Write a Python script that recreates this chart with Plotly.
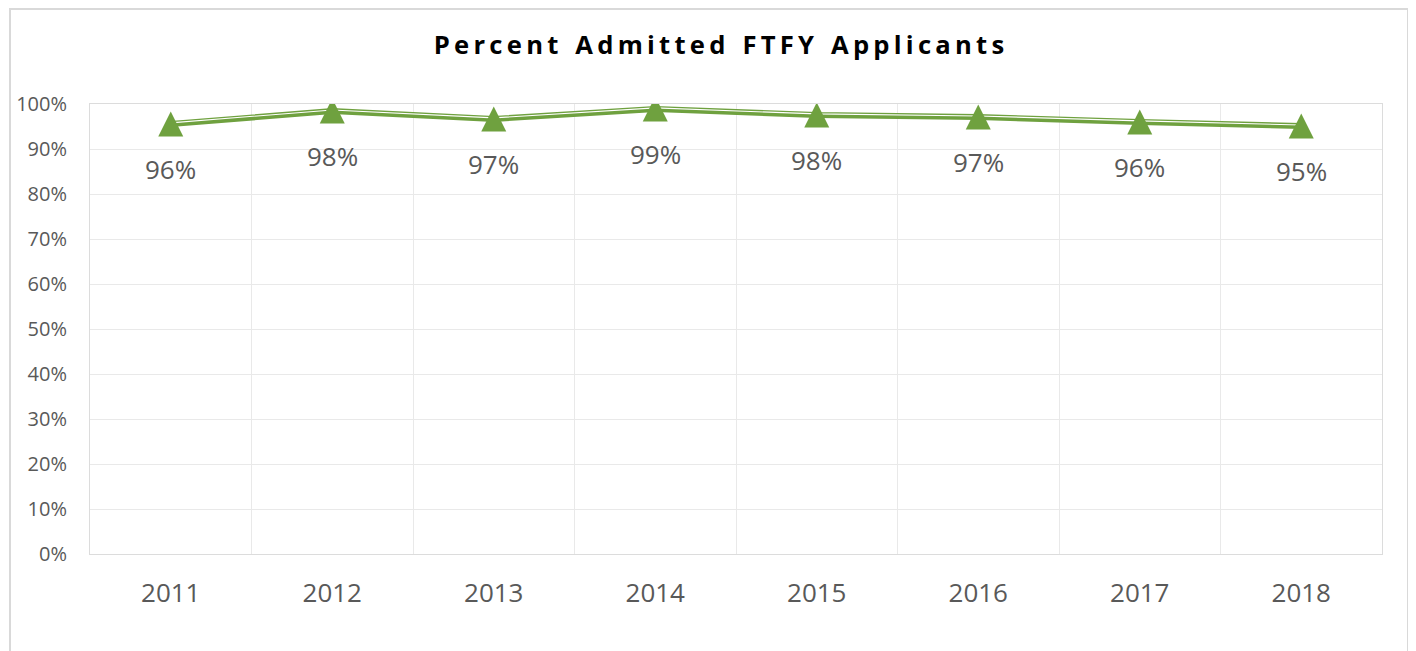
import plotly.graph_objects as go

# data
years = [2011, 2012, 2013, 2014, 2015, 2016, 2017, 2018]
pct_admitted = [0.9556, 0.9844, 0.9667, 0.9889, 0.9756, 0.9711, 0.960, 0.951]
labels = [f"{v:.0%}" for v in pct_admitted]

title_text = "Percent Admitted FTFY Applicants"

green = "#6FA13F"
grey_text = "#595959"
grid = "#E9E9E9"

# spread the title letters like the original
gap = "\u2009"
spaced_title = gap.join(title_text).replace(gap + " " + gap, gap * 4)

fig = go.Figure()

# thick green band
fig.add_trace(go.Scatter(
    x=years, y=pct_admitted, mode="lines",
    line=dict(color=green, width=6), hoverinfo="skip", showlegend=False,
))
# white gap that gives the double line look
fig.add_trace(go.Scatter(
    x=years, y=[v + 0.0024 for v in pct_admitted], mode="lines",
    line=dict(color="white", width=1.1), hoverinfo="skip", showlegend=False,
))
# triangle markers
fig.add_trace(go.Scatter(
    x=years, y=pct_admitted, mode="markers",
    marker=dict(symbol="arrow-down", angle=180, standoff=12.5, size=25, color=green,
                line=dict(width=0)),
    showlegend=False,
))

for yr, v, t in zip(years, pct_admitted, labels):
    fig.add_annotation(
        x=yr, y=v, text=t, showarrow=False, yshift=-45, yanchor="middle",
        font=dict(family="Open Sans", size=26, color=grey_text),
    )

# outer chart frame
fig.add_shape(
    type="rect", xref="paper", yref="paper",
    x0=-80 / 1292, x1=1318 / 1292, y0=-120 / 450, y1=1 + 95 / 450,
    line=dict(color="#D9D9D9", width=2), fillcolor="rgba(0,0,0,0)", layer="below",
)

fig.update_layout(
    width=1408, height=643,
    margin=dict(l=82, r=34, t=96, b=97),
    paper_bgcolor="white", plot_bgcolor="white",
    title=dict(
        text=spaced_title, x=711 / 1408, xanchor="center", xref="container",
        y=1 - 37 / 643, yanchor="middle", yref="container",
        font=dict(family="Open Sans", size=25.6, color="black", weight="bold"),
    ),
    xaxis=dict(
        range=[2010.5, 2018.5], tickmode="array", tickvals=years,
        ticktext=[str(y) for y in years], automargin=False,
        showgrid=False, zeroline=False,
        showline=True, mirror=True, linecolor="#DCDCDC", linewidth=1.2,
        ticks="", ticklabelstandoff=16,
        tickfont=dict(family="Open Sans", size=26, color=grey_text),
        minor=dict(tick0=2010.5, dtick=1, showgrid=True, gridcolor=grid, gridwidth=1),
    ),
    yaxis=dict(
        range=[0, 1], dtick=0.1, tickformat=".0%", automargin=False,
        showgrid=True, gridcolor=grid, gridwidth=1, zeroline=False,
        showline=True, mirror=True, linecolor="#DCDCDC", linewidth=1,
        ticks="", ticklabelstandoff=18,
        tickfont=dict(family="Open Sans", size=20, color=grey_text),
    ),
)

fig.write_html("out.html")
